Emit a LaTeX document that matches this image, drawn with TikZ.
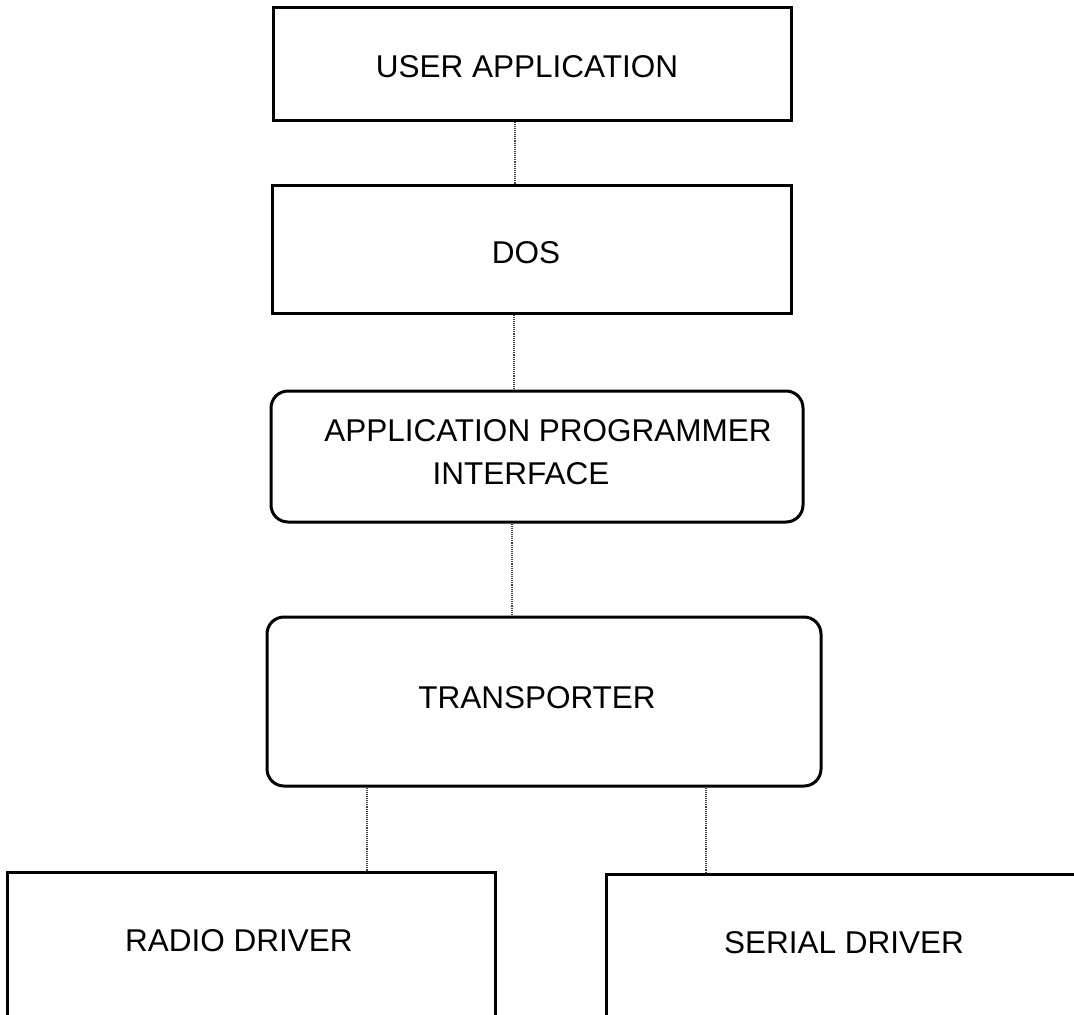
\documentclass[tikz,border=0pt]{standalone}
\usepackage{fontspec}
\setmainfont{Liberation Sans}
\begin{document}
\begin{tikzpicture}[x=1pt,y=-1pt,
  box/.style={draw=black,line width=3pt,inner sep=0pt,align=center},
  rbox/.style={box,rounded corners=17pt},
  lbl/.style={font=\fontsize{31.5}{38}\selectfont},
  conn/.style={draw=black!75,line width=1.1pt,densely dotted}]
\clip (0,0) rectangle (1074,1015);
\fill[white] (0,0) rectangle (1074,1015);
% boxes
\node[box,minimum width=518pt,minimum height=113pt] (ua) at (532,63.5) {};
\node[lbl] (uat) at (527,67) {USER APPLICATION};
\node[box,minimum width=519pt,minimum height=128pt] (dos) at (531.5,249) {};
\node[lbl] (dost) at (526,253) {DOS};
\node[rbox,minimum width=532pt,minimum height=131pt] (api) at (537,456.5) {};
\node[lbl] (apit1) at (548,431) {APPLICATION PROGRAMMER};
\node[lbl] (apit2) at (521,474) {INTERFACE};
\node[rbox,minimum width=554pt,minimum height=169pt] (tr) at (544,701.5) {};
\node[lbl] (trt) at (537,698) {TRANSPORTER};
\node[box,minimum width=488pt,minimum height=170pt] (rd) at (251,957) {};
\node[lbl] (rdt) at (239,941) {RADIO DRIVER};
\node[box,minimum width=490pt,minimum height=170pt] (sd) at (851,959) {};
\node[lbl] (sdt) at (844,943) {SERIAL DRIVER};
% connectors
\draw[conn] (ua.south -| 515,0) -- (dos.north -| 515,0);
\draw[conn] (dos.south -| 514,0) -- (api.north -| 514,0);
\draw[conn] (api.south -| 512,0) -- (tr.north -| 512,0);
\draw[conn] (tr.south -| 367,0) -- (rd.north -| 367,0);
\draw[conn] (tr.south -| 706,0) -- (sd.north -| 706,0);
\end{tikzpicture}
\end{document}
